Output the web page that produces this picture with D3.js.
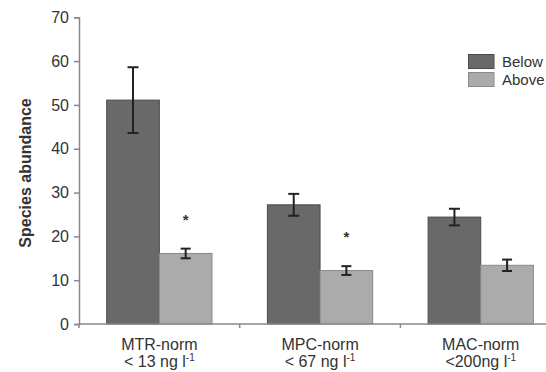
<!DOCTYPE html>
<html><head><meta charset="utf-8">
<script src="https://cdn.jsdelivr.net/npm/d3@7"></script>
<style>html,body{margin:0;padding:0;background:#fff;overflow:hidden}</style>
</head><body>
<svg id="c" width="546" height="372"></svg>
<script>
const categories = ["MTR-norm", "MPC-norm", "MAC-norm"];
const subLabels = ["< 13 ng l", "< 67 ng l", "<200ng l"];
const series = ["Below", "Above"];
const belowValues = [51.1, 27.2, 24.4];
const belowErrors = [7.5, 2.5, 1.9];
const aboveValues = [16.1, 12.2, 13.4];
const aboveErrors = [1.1, 1.0, 1.3];
const significant = [true, true, false];
const yTicks = [0, 10, 20, 30, 40, 50, 60, 70];

const svg = d3.select("#c");
const font = "'Liberation Sans', Arial, sans-serif";
const x0 = 79, y0 = 324, yTop = 17.3;
const bandW = 160.7;
const x = d3.scaleBand().domain(categories).range([x0, x0 + bandW * 3]).padding(0);
const xs = d3.scaleBand().domain(series).range([(bandW - 105.3) / 2, (bandW + 105.3) / 2]);
const y = d3.scaleLinear().domain([0, 70]).range([y0, yTop]);
const colors = {Below: "#696969", Above: "#ababab"};
const strokes = {Below: "#4b4b4b", Above: "#8a8a8a"};

const data = [];
categories.forEach((c, i) => {
  data.push({c, s: "Below", v: belowValues[i], e: belowErrors[i]});
  data.push({c, s: "Above", v: aboveValues[i], e: aboveErrors[i]});
});

// bars
svg.append("g").selectAll("rect").data(data).join("rect")
  .attr("x", d => x(d.c) + xs(d.s))
  .attr("y", d => y(d.v))
  .attr("width", xs.bandwidth())
  .attr("height", d => y0 - y(d.v))
  .attr("fill", d => colors[d.s])
  .attr("stroke", d => strokes[d.s])
  .attr("stroke-width", 1);

// error bars
const eg = svg.append("g").attr("stroke", "#222").attr("stroke-width", 2).attr("fill", "none");
data.forEach(d => {
  const cx = x(d.c) + xs(d.s) + xs.bandwidth() / 2;
  const cw = d.s === "Below" ? 5.5 : 5;
  eg.append("line").attr("x1", cx).attr("x2", cx).attr("y1", y(d.v + d.e)).attr("y2", y(d.v - d.e));
  eg.append("line").attr("x1", cx - cw).attr("x2", cx + cw).attr("y1", y(d.v + d.e)).attr("y2", y(d.v + d.e));
  eg.append("line").attr("x1", cx - cw).attr("x2", cx + cw).attr("y1", y(d.v - d.e)).attr("y2", y(d.v - d.e));
});

// significance stars
categories.forEach((c, i) => {
  if (!significant[i]) return;
  const cx = x(c) + xs("Above") + xs.bandwidth() / 2;
  svg.append("text").attr("x", cx).attr("y", y(aboveValues[i] + aboveErrors[i]) - 24)
    .attr("text-anchor", "middle").attr("font-family", font).attr("font-size", 15)
    .attr("font-weight", "bold").attr("fill", "#333").text("*");
});

// y axis
const yAxis = d3.axisLeft(y).tickValues(yTicks).tickSize(5).tickPadding(5);
const gy = svg.append("g").attr("transform", `translate(${x0},0)`).call(yAxis);
gy.select(".domain").attr("stroke", "#888").attr("stroke-width", 1.5);
gy.selectAll(".tick line").attr("stroke", "#888").attr("stroke-width", 1.5);
gy.selectAll(".tick text").attr("font-family", font).attr("font-size", 16).attr("fill", "#333");

// x axis
const gx = svg.append("g").attr("transform", `translate(0,${y0})`);
gx.append("line").attr("x1", x0).attr("x2", x0 + bandW * 3).attr("stroke", "#888").attr("stroke-width", 1.5);
gx.selectAll(".bt").data(categories).join("line").attr("class", "bt")
  .attr("x1", d => x(d)).attr("x2", d => x(d)).attr("y1", 0).attr("y2", 4)
  .attr("stroke", "#888").attr("stroke-width", 1.5);
categories.forEach((c, i) => {
  const cx = x(c) + bandW / 2;
  gx.append("text").attr("x", cx).attr("y", 26).attr("text-anchor", "middle")
    .attr("font-family", font).attr("font-size", 16).attr("fill", "#333").text(c);
  const t = gx.append("text").attr("x", cx).attr("y", 43).attr("text-anchor", "middle")
    .attr("font-family", font).attr("font-size", 16).attr("fill", "#333");
  t.append("tspan").text(subLabels[i]);
  t.append("tspan").attr("font-size", 10).attr("dy", -6).text("-1");
});

// y label
svg.append("text").attr("transform", "translate(31,173) rotate(-90)")
  .attr("text-anchor", "middle").attr("font-family", font).attr("font-size", 16)
  .attr("font-weight", "bold").attr("fill", "#333").text("Species abundance");

// legend
const lg = svg.append("g");
series.forEach((s, i) => {
  const ly = 54.5 + i * 18;
  lg.append("rect").attr("x", 468.5).attr("y", ly).attr("width", 25.5).attr("height", 14)
    .attr("fill", colors[s]).attr("stroke", strokes[s]).attr("stroke-width", 1);
  lg.append("text").attr("x", 502).attr("y", ly + 12.5).attr("font-family", font)
    .attr("font-size", 15).attr("fill", "#333").text(s);
});
</script>
</body></html>
